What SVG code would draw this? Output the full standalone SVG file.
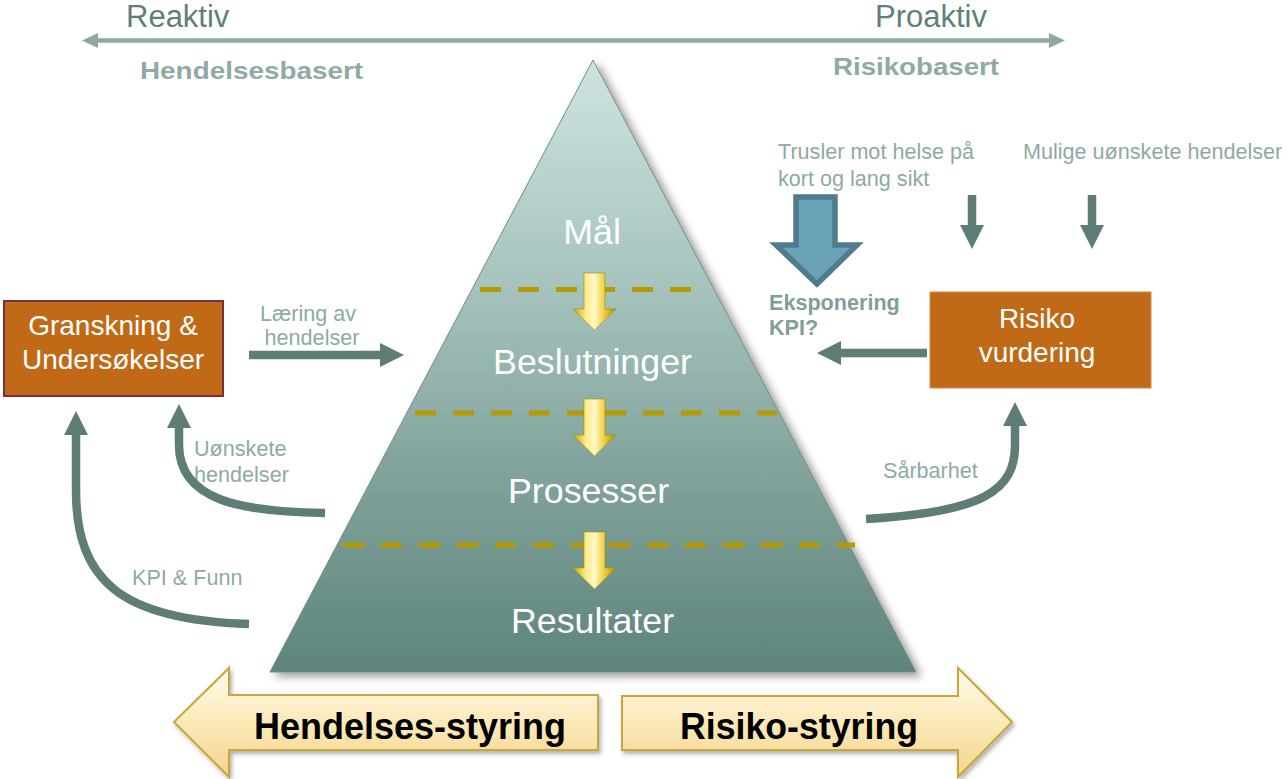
<svg xmlns="http://www.w3.org/2000/svg" width="1287" height="779" viewBox="0 0 1287 779">
<style>
text{font-family:"Liberation Sans",Arial,sans-serif}
.lbl{fill:#8eaaa4;font-size:21.6px}
.hdr{fill:#5f7f78;font-size:31px}
.sub{fill:#8eaaa4;font-size:24px;font-weight:bold}
.pyr{fill:#ffffff;font-size:35.8px;text-anchor:middle}
.box{fill:#ffffff;font-size:28px;text-anchor:middle}
.big{fill:#000000;font-size:36px;font-weight:bold;text-anchor:middle}
.conn{fill:none;stroke:#5e7d77;stroke-width:8.5;marker-end:url(#ah)}
.dash{stroke:#b59b00;stroke-width:5;stroke-dasharray:21 17}
</style>
<defs>
<linearGradient id="pg" x1="0" y1="0" x2="0" y2="1">
<stop offset="0" stop-color="#cfe3df"/>
<stop offset="0.35" stop-color="#a8c5c0"/>
<stop offset="0.65" stop-color="#84a59e"/>
<stop offset="1" stop-color="#5e847c"/>
</linearGradient>
<linearGradient id="gold" x1="0" y1="0" x2="1" y2="0">
<stop offset="0" stop-color="#c9a400"/>
<stop offset="0.3" stop-color="#ffec8a"/>
<stop offset="0.5" stop-color="#fff8c8"/>
<stop offset="0.7" stop-color="#f2d448"/>
<stop offset="1" stop-color="#b48c00"/>
</linearGradient>
<linearGradient id="cream" x1="0" y1="0" x2="0" y2="1">
<stop offset="0" stop-color="#fffbee"/>
<stop offset="0.5" stop-color="#fbe9b8"/>
<stop offset="1" stop-color="#f3d48c"/>
</linearGradient>
<filter id="sh" x="-10%" y="-10%" width="130%" height="130%">
<feDropShadow dx="5" dy="4" stdDeviation="4" flood-color="#000" flood-opacity="0.4"/>
</filter>
<filter id="sh2" x="-10%" y="-10%" width="130%" height="130%">
<feDropShadow dx="2" dy="3" stdDeviation="2" flood-color="#000" flood-opacity="0.3"/>
</filter>
<marker id="ah" markerUnits="userSpaceOnUse" markerWidth="24" markerHeight="24" refX="0" refY="12" orient="auto">
<path d="M0,0 L24,12 L0,24 Z" fill="#5e7d77"/>
</marker>
<path id="garrow" d="M-10.5,0 L10.5,0 L10.5,36 L21.5,36 L0,57 L-21.5,36 L-10.5,36 Z" fill="url(#gold)" stroke="#a88a00" stroke-width="0.6"/>
</defs>

<g id="scale">
<line x1="96" y1="40.5" x2="1050" y2="40.5" stroke="#8ea8a3" stroke-width="4.5"/>
<polygon points="82,40.5 98,33 98,48" fill="#8ea8a3"/>
<polygon points="1065,40.5 1049,33 1049,48" fill="#8ea8a3"/>
<text class="hdr" x="126" y="27">Reaktiv</text>
<text class="hdr" x="875" y="27">Proaktiv</text>
<text class="sub" x="140" y="79" textLength="223" lengthAdjust="spacingAndGlyphs">Hendelsesbasert</text>
<text class="sub" x="833" y="75" textLength="166" lengthAdjust="spacingAndGlyphs">Risikobasert</text>
</g>

<g id="pyramid">
<polygon points="593,60 270,672 916,672" fill="url(#pg)" stroke="#6f8f88" stroke-width="1" filter="url(#sh)"/>
<line class="dash" x1="480" y1="289.5" x2="695" y2="289.5"/>
<line class="dash" x1="415" y1="413" x2="777" y2="413"/>
<line class="dash" x1="343" y1="545" x2="855" y2="545"/>
<use href="#garrow" x="594.5" y="273"/>
<use href="#garrow" x="594.5" y="399"/>
<use href="#garrow" x="594.5" y="532"/>
<text class="pyr" x="592" y="244" font-size="33">Mål</text>
<text class="pyr" x="592.5" y="374">Beslutninger</text>
<text class="pyr" x="588.5" y="503">Prosesser</text>
<text class="pyr" x="592.5" y="633">Resultater</text>
</g>

<g id="granskning">
<rect x="4" y="301" width="219" height="95" fill="#c06a17" stroke="#7a2e3e" stroke-width="2"/>
<text class="box" x="113" y="335">Granskning &amp;</text>
<text class="box" x="113" y="369">Undersøkelser</text>
</g>

<g id="risiko">
<rect x="930" y="292" width="221" height="96" fill="#c06a17" stroke="#d48a44" stroke-width="1"/>
<text class="box" x="1037" y="328">Risiko</text>
<text class="box" x="1037" y="362">vurdering</text>
</g>

<g id="eksponering">
<path d="M796,197 L835,197 L835,245 L857,245 L817,284 L776,245 L796,245 Z" fill="#6aa3b8" stroke="#4f7b8a" stroke-width="5.5" stroke-linejoin="miter"/>
<text x="769" y="310" fill="#7f9f99" font-size="21.6" font-weight="bold">Eksponering</text>
<text x="769" y="335" fill="#7f9f99" font-size="21.6" font-weight="bold">KPI?</text>
</g>

<g id="labels">
<text class="lbl" x="778" y="159">Trusler mot helse på</text>
<text class="lbl" x="778" y="186">kort og lang sikt</text>
<text class="lbl" x="1023" y="159">Mulige uønskete hendelser</text>
<text class="lbl" x="308" y="321" text-anchor="middle">Læring av</text>
<text class="lbl" x="312" y="345" text-anchor="middle">hendelser</text>
<text class="lbl" x="194" y="456">Uønskete</text>
<text class="lbl" x="194" y="482">hendelser</text>
<text class="lbl" x="132" y="585">KPI &amp; Funn</text>
<text class="lbl" x="883" y="478">Sårbarhet</text>
</g>

<g id="connectors">
<path class="conn" d="M249,355 L380,355"/>
<path class="conn" d="M927,353 L841,353"/>
<path class="conn" d="M972,195 L972,225"/>
<path class="conn" d="M1092,195 L1092,225"/>
<path class="conn" d="M325,513 C240,512 179,500 179,445 L179,428"/>
<path class="conn" d="M249,624 C120,620 76,580 76,490 L76,435"/>
<path class="conn" d="M866,519 C985,512 1015,490 1015,445 L1015,426"/>
</g>

<g id="hendelses-styring">
<path d="M174,722 L229,668 L229,695 L598,695 L598,750 L229,750 L229,777 Z" fill="url(#cream)" stroke="#c9a635" stroke-width="2" filter="url(#sh2)"/>
<text class="big" x="410" y="739" textLength="312" lengthAdjust="spacingAndGlyphs">Hendelses-styring</text>
</g>

<g id="risiko-styring">
<path d="M1012,722 L958,668 L958,696 L622,696 L622,750 L958,750 L958,777 Z" fill="url(#cream)" stroke="#c9a635" stroke-width="2" filter="url(#sh2)"/>
<text class="big" x="799" y="739" textLength="238" lengthAdjust="spacingAndGlyphs">Risiko-styring</text>
</g>
</svg>
